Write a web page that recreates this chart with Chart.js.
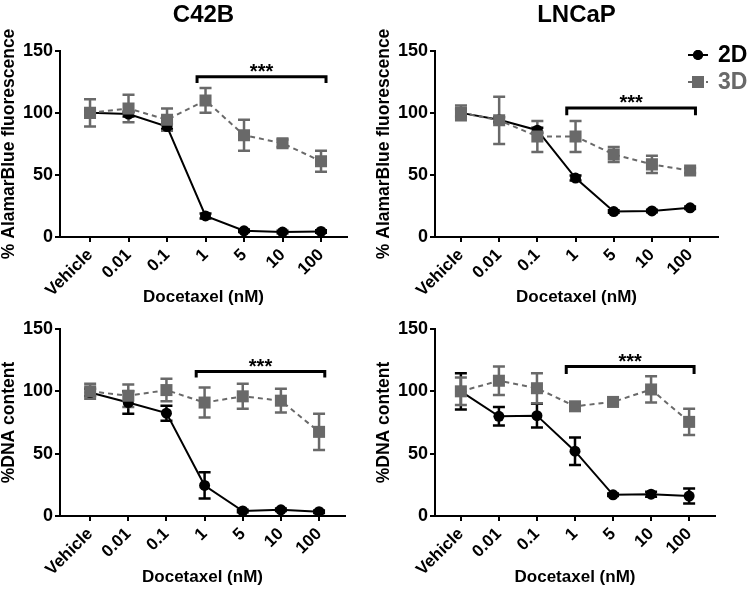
<!DOCTYPE html>
<html>
<head>
<meta charset="utf-8">
<script src="https://cdn.jsdelivr.net/npm/chart.js@4.4.0/dist/chart.umd.min.js"></script>
<style>
body { margin: 0; background: #fff; }
#wrap { position: relative; width: 750px; height: 592px; }
#wrap canvas { position: absolute; }
</style>
</head>
<body>
<div id="wrap">
    <canvas id="c42b_ab" width="375" height="310" style="left:0;top:0"></canvas>
    <canvas id="lncap_ab" width="375" height="310" style="left:375px;top:0"></canvas>
    <canvas id="c42b_dna" width="375" height="282" style="left:0;top:310px"></canvas>
    <canvas id="lncap_dna" width="375" height="282" style="left:375px;top:310px"></canvas>
</div>
<script>
// x categories (docetaxel dose)
var doses = ['Vehicle', '0.01', '0.1', '1', '5', '10', '100'];
var yTicks = [0, 50, 100, 150];

// C42B, AlamarBlue
var c42bAb2D = [100, 99, 89, 17, 5, 4, 4.5];
var c42bAb2DErr = [2, 2, 2, 2, 1, 1, 1];
var c42bAb3D = [100, 103.5, 94.5, 110, 82, 75.5, 61];
var c42bAb3DErr = [11, 11, 9, 10, 12.5, 3, 8.5];

// LNCaP, AlamarBlue
var lncapAb2D = [100, 94.5, 86, 47.5, 20.5, 21, 23.5];
var lncapAb2DErr = [3, 2, 2, 2, 1, 1, 1];
var lncapAb3D = [100, 94, 81, 81, 66.5, 58.5, 53.5];
var lncapAb3DErr = [6, 19, 12.5, 12.5, 6, 7, 2];

// C42B, DNA content
var c42bDna2D = [99, 91, 82.5, 24.5, 4, 5, 3.5];
var c42bDna2DErr = [3, 9, 6, 10.5, 1, 1, 1];
var c42bDna3D = [100, 96.5, 101, 91, 96, 92.5, 67.5];
var c42bDna3DErr = [6, 9, 9, 12, 10, 9.5, 14.5];

// LNCaP, DNA content
var lncapDna2D = [100, 80, 80.5, 52, 17, 17.5, 16];
var lncapDna2DErr = [14.5, 7.5, 9.5, 11, 1, 2, 6];
var lncapDna3D = [100, 108.5, 102.5, 88, 91.5, 101.5, 75.5];
var lncapDna3DErr = [11, 11.5, 12, 1, 1, 10.5, 10.5];

// significance brackets: [x from, x to], level, drop of the ends
var c42bAbBracket = { x: [2.78, 6.13], level: 129, drop: 5 };
var lncapAbBracket = { x: [2.77, 6.14], level: 104, drop: 6 };
var c42bDnaBracket = { x: [2.78, 6.15], level: 116, drop: 5 };
var lncapDnaBracket = { x: [2.77, 6.13], level: 120, drop: 6 };

var BLACK = '#000000';
var GREY = '#696969';
var FONT = "'Liberation Sans', Arial, sans-serif";

Chart.defaults.font.family = FONT;
Chart.defaults.font.weight = 'bold';
Chart.defaults.color = BLACK;

function toPoints(vals) {
    return vals.map(function(v, i) { return { x: i, y: v }; });
}

// error bars, drawn under the markers
var errorBars = {
    id: 'errorBars',
    beforeDatasetsDraw: function(chart) {
        var ctx = chart.ctx, xs = chart.scales.x, ys = chart.scales.y;
        chart.data.datasets.slice().reverse().forEach(function(ds) {
            if (!ds.errors) return;
            ctx.save();
            ctx.strokeStyle = ds.borderColor;
            ctx.lineWidth = 2.5;
            ds.data.forEach(function(p, i) {
                var e = ds.errors[i];
                var x = xs.getPixelForValue(p.x);
                var y1 = ys.getPixelForValue(p.y + e);
                var y2 = ys.getPixelForValue(p.y - e);
                ctx.beginPath();
                ctx.moveTo(x, y1); ctx.lineTo(x, y2);
                ctx.moveTo(x - 6, y1); ctx.lineTo(x + 6, y1);
                ctx.moveTo(x - 6, y2); ctx.lineTo(x + 6, y2);
                ctx.stroke();
            });
            ctx.restore();
        });
    }
};

// "***" above the bracket
var stars = {
    id: 'stars',
    afterDatasetsDraw: function(chart, args, opts) {
        if (!opts.bracket) return;
        var b = opts.bracket;
        var ctx = chart.ctx;
        var x = (chart.scales.x.getPixelForValue(b.x[0]) + chart.scales.x.getPixelForValue(b.x[1])) / 2;
        var y = chart.scales.y.getPixelForValue(b.level);
        ctx.save();
        ctx.font = 'bold 20px ' + FONT;
        ctx.fillStyle = BLACK;
        ctx.textAlign = 'center';
        ctx.textBaseline = 'middle';
        ctx.fillText('***', x, y - 4);
        ctx.restore();
    }
};

// legend in the top right panel
var sideLegend = {
    id: 'sideLegend',
    afterDraw: function(chart, args, opts) {
        if (!opts.show) return;
        var ctx = chart.ctx;
        var items = [
            { text: '2D', color: BLACK, y: 55, dash: [], style: 'circle', r: 5 },
            { text: '3D', color: GREY, y: 82, dash: [5, 4], style: 'rect', r: 8.5 }
        ];
        items.forEach(function(it) {
            ctx.save();
            ctx.strokeStyle = it.color;
            ctx.fillStyle = it.color;
            ctx.lineWidth = 2;
            ctx.setLineDash(it.dash);
            ctx.beginPath();
            ctx.moveTo(313, it.y); ctx.lineTo(333, it.y);
            ctx.stroke();
            ctx.setLineDash([]);
            Chart.helpers.drawPoint(ctx, { pointStyle: it.style, radius: it.r, borderWidth: 0 }, 323, it.y);
            ctx.fill();
            ctx.font = 'bold 23px ' + FONT;
            ctx.textBaseline = 'middle';
            ctx.fillText(it.text, 343, it.y + 1);
            ctx.restore();
        });
    }
};

function makePanel(id, p) {
    var ctx = document.getElementById(id).getContext('2d');
    var bracketPts = [
        { x: p.bracket.x[0], y: p.bracket.level - p.bracket.drop },
        { x: p.bracket.x[0], y: p.bracket.level },
        { x: p.bracket.x[1], y: p.bracket.level },
        { x: p.bracket.x[1], y: p.bracket.level - p.bracket.drop }
    ];
    return new Chart(ctx, {
        type: 'line',
        data: {
            datasets: [{
                label: '3D',
                data: toPoints(p.d3),
                errors: p.e3,
                borderColor: GREY,
                backgroundColor: GREY,
                borderWidth: 2,
                borderDash: [5, 4],
                pointStyle: 'rect',
                pointRadius: 8.5,
                pointBorderWidth: 0,
                order: 0
            }, {
                label: '2D',
                data: toPoints(p.d2),
                errors: p.e2,
                borderColor: BLACK,
                backgroundColor: BLACK,
                borderWidth: 2,
                pointStyle: 'circle',
                pointRadius: 5.5,
                pointBorderWidth: 0,
                order: 1
            }, {
                label: 'bracket',
                data: bracketPts,
                borderColor: BLACK,
                borderWidth: 3,
                pointRadius: 0,
                order: 2
            }]
        },
        options: {
            responsive: false,
            animation: false,
            events: [],
            layout: { padding: { left: 0, right: p.padRight, top: p.padTop, bottom: 0 } },
            plugins: {
                legend: { display: false },
                tooltip: { enabled: false },
                title: {
                    display: !!p.title,
                    text: p.title,
                    fullSize: false,
                    font: { size: 24, weight: 'bold' },
                    padding: { top: 1, bottom: 21 }
                },
                stars: { bracket: p.bracket },
                sideLegend: { show: !!p.legend }
            },
            scales: {
                x: {
                    type: 'linear',
                    min: p.xMin,
                    max: p.xMax,
                    afterBuildTicks: function(scale) {
                        scale.ticks = doses.map(function(d, i) { return { value: i }; });
                    },
                    afterFit: function(scale) { scale.height = p.xHeight; },
                    ticks: {
                        callback: function(v) { return doses[v]; },
                        minRotation: 45,
                        maxRotation: 45,
                        padding: 3,
                        font: { size: 17, weight: 'bold' },
                        color: BLACK
                    },
                    grid: { drawOnChartArea: false, drawTicks: true, tickLength: 5, color: BLACK, lineWidth: 2 },
                    border: { display: true, color: BLACK, width: 2 },
                    title: {
                        display: true,
                        text: 'Docetaxel (nM)',
                        font: { size: 17, weight: 'bold' },
                        padding: { top: 2, bottom: p.xTitlePad }
                    }
                },
                y: {
                    min: 0,
                    max: 150,
                    afterBuildTicks: function(scale) {
                        scale.ticks = yTicks.map(function(v) { return { value: v }; });
                    },
                    afterFit: function(scale) { scale.width = 60; },
                    ticks: {
                        padding: 2,
                        font: { size: 18, weight: 'bold' },
                        color: BLACK
                    },
                    grid: { drawOnChartArea: false, drawTicks: true, tickLength: 5, color: BLACK, lineWidth: 2 },
                    border: { display: true, color: BLACK, width: 2 },
                    title: {
                        display: true,
                        text: p.yTitle,
                        font: { size: 17.5, weight: 'bold', lineHeight: 1 },
                        padding: { top: 0, bottom: 0 }
                    }
                }
            }
        },
        plugins: [errorBars, stars, sideLegend]
    });
}

makePanel('c42b_ab', {
    title: 'C42B', yTitle: '% AlamarBlue fluorescence',
    d2: c42bAb2D, e2: c42bAb2DErr, d3: c42bAb3D, e3: c42bAb3DErr,
    bracket: c42bAbBracket,
    xMin: -0.78, xMax: 6.675, padRight: 28, padTop: 0, xHeight: 73, xTitlePad: 2
});
makePanel('lncap_ab', {
    title: 'LNCaP', yTitle: '% AlamarBlue fluorescence', legend: true,
    d2: lncapAb2D, e2: lncapAb2DErr, d3: lncapAb3D, e3: lncapAb3DErr,
    bracket: lncapAbBracket,
    xMin: -0.68, xMax: 6.73, padRight: 32, padTop: 0, xHeight: 73, xTitlePad: 2
});
makePanel('c42b_dna', {
    yTitle: '%DNA content',
    d2: c42bDna2D, e2: c42bDna2DErr, d3: c42bDna3D, e3: c42bDna3DErr,
    bracket: c42bDnaBracket,
    xMin: -0.79, xMax: 6.68, padRight: 30, padTop: 19, xHeight: 76, xTitlePad: 4
});
makePanel('lncap_dna', {
    yTitle: '%DNA content',
    d2: lncapDna2D, e2: lncapDna2DErr, d3: lncapDna3D, e3: lncapDna3DErr,
    bracket: lncapDnaBracket,
    xMin: -0.68, xMax: 6.68, padRight: 35, padTop: 19, xHeight: 76, xTitlePad: 4
});
</script>
</body>
</html>
